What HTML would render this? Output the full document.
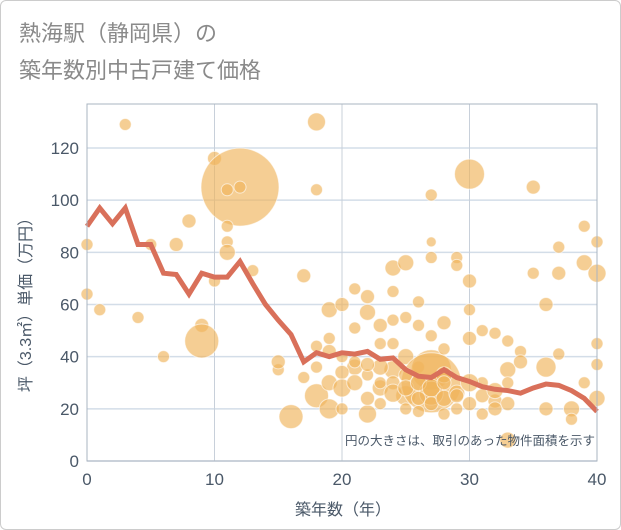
<!DOCTYPE html>
<html><head><meta charset="utf-8"><style>
body{margin:0;background:#fff;font-family:"Liberation Sans","Noto Sans CJK JP",sans-serif}
#wrap{position:relative;width:619px;height:528px;border:1px solid #ccc;border-radius:6px;overflow:hidden}
</style></head><body>
<div id="wrap">
<svg id="chart" width="621" height="530">
<text x="18" y="40" font-size="22" fill="#8a8a8a">熱海駅（静岡県）の</text>
<text x="18" y="77" font-size="22" fill="#8a8a8a">築年数別中古戸建て価格</text>
<g id="grid"></g><g id="bubbles"></g><g id="line"></g><g id="axes"></g>
<text x="594" y="444" font-size="12.5" fill="#4a5868" text-anchor="end">円の大きさは、取引のあった物件面積を示す</text>
<text x="342" y="514" font-size="16" fill="#4a5868" text-anchor="middle">築年数（年）</text>
<text transform="translate(30,300) rotate(-90)" font-size="16" fill="#4a5868" text-anchor="middle">坪（3.3㎡）単価（万円）</text>
</svg></div>
<script>
const xTicks=[0,10,20,30,40];
const yTicks=[0,20,40,60,80,100,120];
const lineYears=[0,1,2,3,4,5,6,7,8,9,10,11,12,13,14,15,16,17,18,19,20,21,22,23,24,25,26,27,28,29,30,31,32,33,34,35,36,37,38,39,40];
const lineValues=[90,97,91,97,83,83,72,71.5,64,72,70.5,70.5,76.5,68,60,54,48.5,38,41.5,40,41.5,41,42,39,39.5,35,32.5,32,35,32,30.5,28.5,27.5,27,26,28,29.5,29,27,24,19];
const bubX=[0,0,1,3,4,5,6,7,8,9,9,10,10,12,11,11,11,11,12,13,15,15,16,17,17,18,18,18,19,19,19,20,20,21,21,22,22,23,23,23,24,24,24,25,25,25,26,26,27,27,27,27,27,27,28,28,29,29,30,30,30,30,31,31,32,32,33,33,33,34,34,35,35,36,36,37,37,37,38,38,39,39,40,40,40,40,40,26,28,22,24,19,21,36,39,33,
18,19,20,20,21,21,22,22,23,23,24,24,25,25,25,26,26,26,27,27,28,28,28,29,29,30,30,31,31,32,32,33,20,22,24,18,23,25,27,29];
const bubY=[83,64,58,129,55,83,40,83,92,52,46,116,69,105,104,90,84,80,105,73,35,38,17,71,32,25,130,104,58,47,30,40,60,36,66,18,63,45,28,30,74,65,35,76,40,25,61,36,102,84,78,35,30,26,53,43,78,75,110,69,58,47,50,30,49,23,46,35,22,42,38,105,72,20,36,82,72,41,20,16,90,76,84,72,45,37,24,52,33,57,54,20,51,60,30,8,
44,42,34,28,38,30,24,33,36,22,30,26,33,28,20,30,24,19,28,22,24,18,30,26,20,30,22,25,18,27,20,30,20,37,45,36,52,55,48,25];
const bubR=[6,6,6,6,6,6,6,7,7,7,17,7,6,39,6,6,6,8,6,6,6,7,12,7,6,12,9,6,8,6,8,6,7,8,6,9,7,6,8,6,8,6,9,8,8,10,6,6,6,5,6,20,30,12,7,6,6,6,15,7,6,7,6,6,6,7,6,8,7,6,7,7,6,7,10,6,7,6,8,6,6,8,6,9,6,6,8,6,8,8,6,10,6,7,6,8,
6,7,7,9,6,8,7,6,8,6,7,9,7,8,6,8,7,6,9,7,8,6,7,8,6,9,7,7,6,8,7,6,6,7,6,6,7,6,6,7];
const NS="http://www.w3.org/2000/svg";
const L=86,R=596,T=103,B=460;
const sx=v=>L+(R-L)*v/40, sy=v=>B-(B-147)*v/120;
function mk(tag,attrs,parent){const e=document.createElementNS(NS,tag);for(const k in attrs)e.setAttribute(k,attrs[k]);parent.appendChild(e);return e;}
const grid=document.getElementById('grid');
const bg=mk('rect',{x:L,y:T,width:R-L,height:B-T,fill:'#fff',stroke:'#aab4c0'},grid);


yTicks.forEach(v=>{
 const ln=mk('line',{x1:L,x2:R,y1:sy(v),y2:sy(v),stroke:'#d3dde8','stroke-width':1.5},grid);
 
 
 const t=mk('text',{x:L-8,y:sy(v)+6,'font-size':17,fill:'#4a5868','text-anchor':'end'},grid);
 t.textContent=v;
 
 
});
xTicks.forEach(v=>{
 const ln=mk('line',{x1:sx(v),x2:sx(v),y1:T,y2:B,stroke:'#c8d0da','stroke-width':1},grid);
 
 
 const t=mk('text',{x:sx(v),y:B+24,'font-size':17,fill:'#4a5868','text-anchor':'middle'},grid);
 t.textContent=v;
 
 
});
const bg2=document.getElementById('bubbles');
bubX.forEach((x,i)=>{
 const c=mk('circle',{cx:sx(x),cy:sy(bubY[i]),r:bubR[i],fill:'rgba(240,180,90,0.65)',stroke:'rgba(255,255,255,0.6)','stroke-width':1},bg2);
 
 
});
const pts=lineYears.map((x,i)=>sx(x)+','+sy(lineValues[i])).join(' ');
const pl=mk('polyline',{points:pts,fill:'none',stroke:'#d9705a','stroke-width':5,'stroke-linejoin':'miter'},document.getElementById('line'));


const bd=mk('rect',{x:L,y:T,width:R-L,height:B-T,fill:'none',stroke:'#aab4c0'},document.getElementById('axes'));


</script>
</body></html>
